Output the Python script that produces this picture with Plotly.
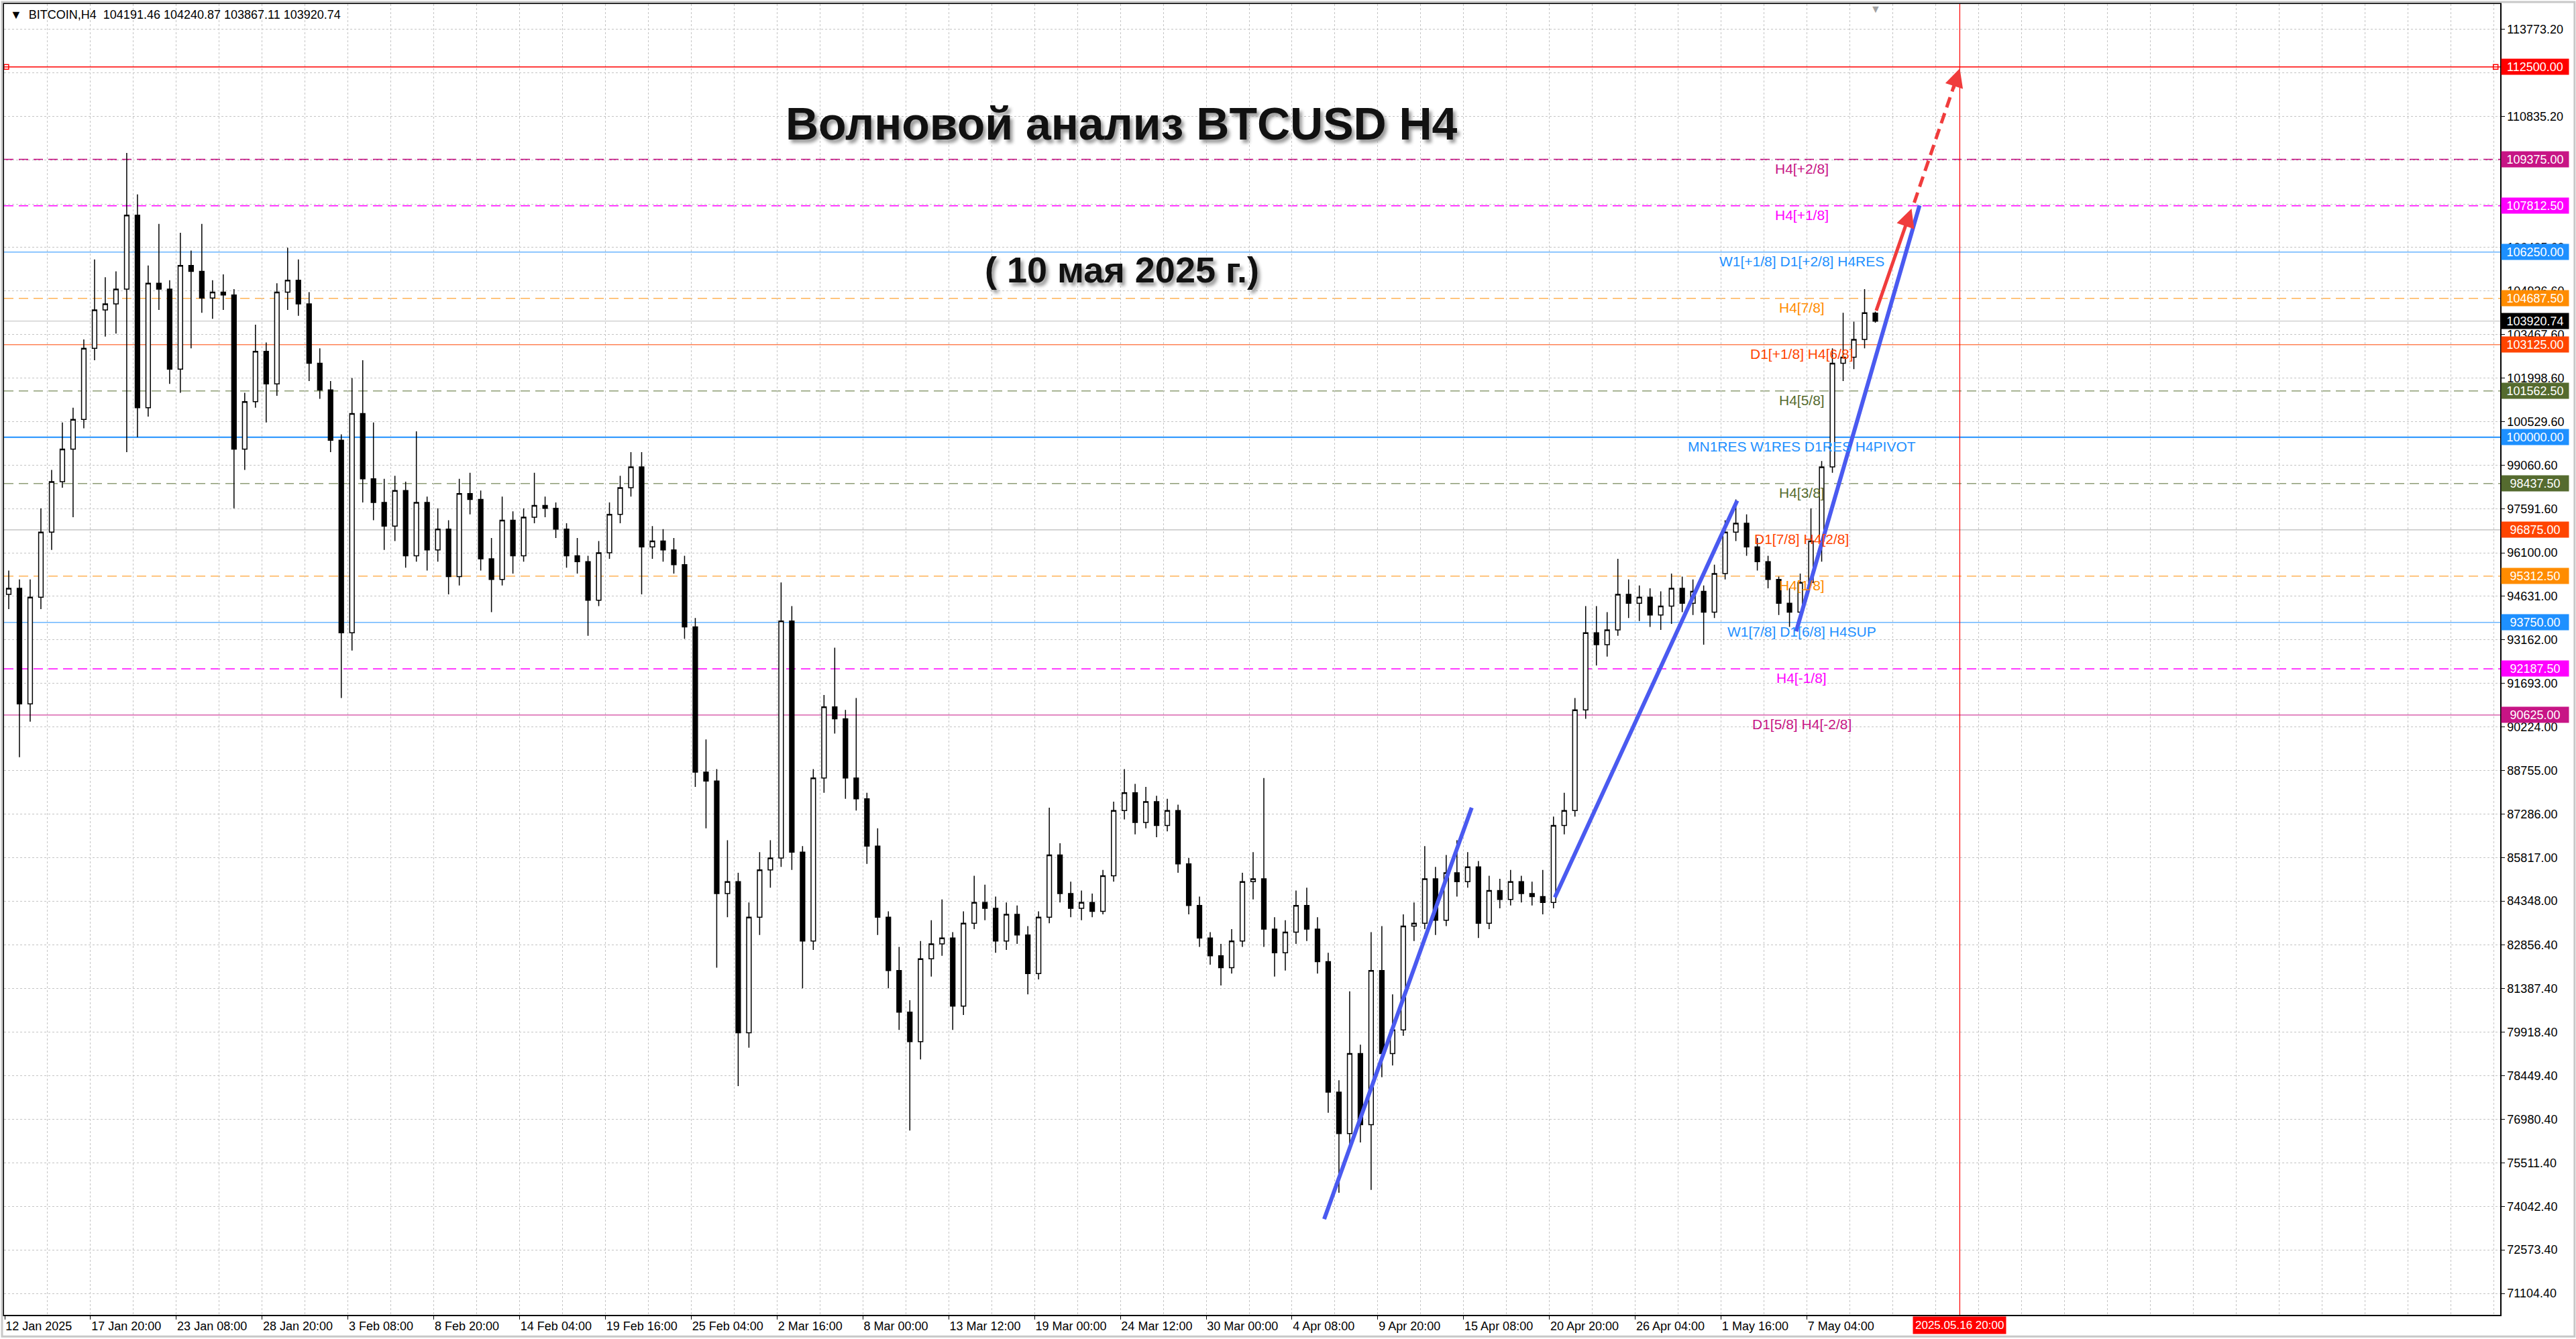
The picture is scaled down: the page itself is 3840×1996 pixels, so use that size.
import plotly.graph_objects as go

# BTCUSD H4, 12 Jan - 10 May 2025; every 4 H4 bars are merged into one candle
bars_per_candle = 4
candle_open = [94700, 94900, 91000, 94600, 96800, 98500, 99600, 100600, 103000, 104300,
               104500, 105000, 107500, 101000, 105200, 105000, 102300, 105800, 105600, 104700,
               104900, 104800, 99600, 101200, 102900, 101800, 104900, 105300, 104500, 102500,
               101600, 99900, 93400, 100800, 98600, 97800, 97000, 98200, 96000, 97800,
               96200, 96900, 95300, 98100, 97900, 95900, 95200, 97200, 96000, 97300,
               97700, 97600, 96900, 96000, 95800, 94500, 96100, 97400, 98300, 99000,
               96300, 96500, 96200, 95700, 93600, 88700, 88400, 84600, 85000, 79900,
               83800, 85400, 85800, 93800, 86000, 83000, 88500, 90900, 90500, 88500,
               87800, 86200, 83800, 82000, 80600, 79600, 82400, 82900, 83100, 80800,
               83600, 84300, 84100, 83000, 83900, 83200, 81900, 83800, 85900, 84600,
               84100, 84300, 84000, 85200, 87400, 88000, 87000, 87700, 86900, 87400,
               85600, 84200, 83100, 82500, 82100, 83000, 85000, 85100, 83400, 82600,
               83300, 84200, 83400, 82300, 77900, 76500, 79200, 76800, 82000, 79200,
               80000, 83500, 83600, 85100, 83700, 85300, 85000, 85500, 83600, 84700,
               84400, 85000, 84600, 84500, 84300, 86900, 87400, 90800, 93400, 93000,
               93500, 94700, 94400, 94600, 94000, 94300, 94900, 94400, 94800, 94100,
               95400, 96800, 97100, 96300, 95800, 95200, 94400, 94100, 95100, 96500,
               99000, 102500, 102700, 103300, 104191.46]
candle_high = [95500, 95200, 95200, 97600, 98900, 100500, 101000, 103300, 106000, 105400,
               105600, 109600, 108200, 105800, 107200, 105300, 106900, 106300, 107200, 105300,
               105500, 105000, 101500, 103800, 103200, 105200, 106400, 106000, 104900, 103000,
               101900, 100100, 102000, 102600, 100500, 98600, 98700, 98500, 100200, 98000,
               97600, 97200, 98600, 98800, 98200, 96600, 98000, 97500, 97600, 98800,
               98000, 97800, 97100, 96600, 96000, 96500, 97800, 98700, 99500, 99500,
               97000, 96900, 96600, 96000, 93900, 89800, 88800, 86400, 85300, 84300,
               86000, 86400, 95100, 94300, 86200, 88800, 91300, 92900, 90800, 91200,
               88000, 86800, 84000, 82800, 81000, 83000, 83700, 84400, 83300, 84000,
               85200, 84900, 84500, 84300, 84200, 83500, 84000, 87500, 86300, 85000,
               84700, 84600, 85400, 87700, 88800, 88300, 88200, 87900, 87800, 87600,
               85800, 84500, 83300, 82900, 83400, 85300, 86000, 88500, 83800, 83700,
               84700, 84800, 83800, 82600, 78300, 81300, 79500, 83300, 83500, 81200,
               83900, 84300, 86200, 85500, 85900, 86400, 86000, 85700, 85200, 85100,
               85400, 85200, 85000, 85400, 87200, 88000, 91200, 94300, 94300, 94100,
               95900, 95200, 95000, 94900, 94800, 95400, 95300, 95200, 95000, 95700,
               97200, 97900, 97400, 96600, 96000, 95300, 94900, 95400, 97600, 99200,
               103000, 104200, 103900, 105000, 104240.87]
candle_low = [94200, 89200, 90400, 94200, 96200, 98300, 97300, 100300, 102600, 103400,
              103500, 99500, 100000, 100700, 104300, 101800, 101500, 103000, 104200, 104000,
              104300, 97600, 98900, 101000, 100500, 101400, 104300, 104100, 101900, 101300,
              99500, 91200, 92800, 97800, 97200, 96200, 96500, 95600, 95800, 95500,
              95800, 94700, 95000, 97400, 95500, 94100, 95000, 95400, 95800, 97100,
              97300, 96600, 95600, 95400, 93300, 94300, 95900, 97100, 98000, 94700,
              95900, 95800, 95400, 93200, 88200, 86800, 82100, 83800, 78100, 79400,
              83200, 84800, 85500, 85400, 81400, 82700, 88000, 90000, 87800, 87400,
              85600, 83200, 81400, 80000, 76600, 79000, 81800, 82500, 80000, 80500,
              83400, 83700, 82600, 82700, 82900, 81200, 81700, 83600, 84300, 83800,
              83700, 83800, 83900, 85000, 87100, 86600, 86800, 86500, 86700, 85300,
              83900, 82800, 82200, 81500, 81900, 82800, 84400, 82800, 81800, 82000,
              82900, 83000, 81900, 77200, 74500, 76000, 76200, 74600, 78400, 78800,
              79800, 83000, 83400, 83200, 83500, 84500, 84800, 83100, 83400, 84100,
              84200, 84300, 84200, 83900, 84100, 86600, 87200, 90500, 92300, 92600,
              93300, 93900, 93800, 93600, 93500, 93700, 94100, 94000, 93000, 93900,
              95200, 96500, 96000, 95500, 94900, 94000, 93600, 93800, 95000, 95800,
              98800, 101900, 102300, 103000, 103867.11]
candle_close = [94900, 91000, 94600, 96800, 98500, 99600, 100600, 103000, 104300, 104500,
                105000, 107500, 101000, 105200, 105000, 102300, 105800, 105600, 104700, 104900,
                104800, 99600, 101200, 102900, 101800, 104900, 105300, 104500, 102500, 101600,
                99900, 93400, 100800, 98600, 97800, 97000, 98200, 96000, 97800, 96200,
                96900, 95300, 98100, 97900, 95900, 95200, 97200, 96000, 97300, 97700,
                97600, 96900, 96000, 95800, 94500, 96100, 97400, 98300, 99000, 96300,
                96500, 96200, 95700, 93600, 88700, 88400, 84600, 85000, 79900, 83800,
                85400, 85800, 93800, 86000, 83000, 88500, 90900, 90500, 88500, 87800,
                86200, 83800, 82000, 80600, 79600, 82400, 82900, 83100, 80800, 83600,
                84300, 84100, 83000, 83900, 83200, 81900, 83800, 85900, 84600, 84100,
                84300, 84000, 85200, 87400, 88000, 87000, 87700, 86900, 87400, 85600,
                84200, 83100, 82500, 82100, 83000, 85000, 85100, 83400, 82600, 83300,
                84200, 83400, 82300, 77900, 76500, 79200, 76800, 82000, 79200, 80000,
                83500, 83600, 85100, 83700, 85300, 85000, 85500, 83600, 84700, 84400,
                85000, 84600, 84500, 84300, 86900, 87400, 90800, 93400, 93000, 93500,
                94700, 94400, 94600, 94000, 94300, 94900, 94400, 94800, 94100, 95400,
                96800, 97100, 96300, 95800, 95200, 94400, 94100, 95100, 96500, 99000,
                102500, 102700, 103300, 104200, 103920.74]

# terminal time scale: one label every 32 bars
time_labels = ["12 Jan 2025", "17 Jan 20:00", "23 Jan 08:00", "28 Jan 20:00", "3 Feb 08:00",
               "8 Feb 20:00", "14 Feb 04:00", "19 Feb 16:00", "25 Feb 04:00", "2 Mar 16:00",
               "8 Mar 00:00", "13 Mar 12:00", "19 Mar 00:00", "24 Mar 12:00", "30 Mar 00:00",
               "4 Apr 08:00", "9 Apr 20:00", "15 Apr 08:00", "20 Apr 20:00", "26 Apr 04:00",
               "1 May 16:00", "7 May 04:00"]
label_step = 32
grid_step = 16
total_bars = 930
future_bar = 729
future_label = "2025.05.16 20:00"

# terminal price scale (two of the values sit under level boxes and are not printed)
price_ticks = [113773.20, 112304.20, 110835.20, 109366.20, 107871.60, 106405.60, 104936.60,
               103467.60, 101998.60, 100529.60, 99060.60, 97591.60, 96100.00, 94631.00,
               93162.00, 91693.00, 90224.00, 88755.00, 87286.00, 85817.00, 84348.00,
               82856.40, 81387.40, 79918.40, 78449.40, 76980.40, 75511.40, 74042.40,
               72573.40, 71104.40]
hidden_ticks = [112304.20, 109366.20]
y_min, y_max = 70380, 114624

# Murrey math levels
mm_levels = [112500, 109375, 107812.5, 106250, 104687.5, 103125, 101562.5, 100000,
             98437.5, 96875, 95312.5, 93750, 92187.5, 90625]
mm_captions = ["", "H4[+2/8]", "H4[+1/8]", "W1[+1/8] D1[+2/8] H4RES", "H4[7/8]",
               "D1[+1/8] H4[6/8]", "H4[5/8]", "MN1RES W1RES D1RES H4PIVOT", "H4[3/8]",
               "D1[7/8] H4[2/8]", "H4[1/8]", "W1[7/8] D1[6/8] H4SUP", "H4[-1/8]",
               "D1[5/8] H4[-2/8]"]
caption_bar = 670
last_price = 103920.74
header = "▼  BITCOIN,H4  104191.46 104240.87 103867.11 103920.74"
title = "Волновой анализ BTCUSD H4"
subtitle = "( 10 мая 2025 г.)"

# hand drawn wave lines (bar, price)
wave1_bar, wave1_price = [492, 547], [73610, 87500]
wave2_bar, wave2_price = [578, 646], [84470, 97860]
wave3_bar, wave3_price = [668, 714], [93450, 107830]
arrow_bar, arrow_price = [697.7, 711], [104240, 107720]
target_bar, target_price = [712, 729], [107920, 112450]

# styles
mm_colors = ["#FF0000", "#C71585", "#FF00FF", "#1E90FF", "#FF8C00", "#FF4500", "#556B2F",
             "#1E90FF", "#556B2F", "#FF4500", "#FF8C00", "#1E90FF", "#FF00FF", "#C71585"]
mm_line_colors = list(mm_colors)
mm_line_colors[9] = "#A8A8A8"
dash = "14px,8px"
mm_dash = ["solid", dash, dash, "solid", dash, "solid", dash, "solid", dash, "solid",
           dash, "solid", dash, "solid"]
mm_width = [1.5, 2, 1.5, 1, 1, 1, 1, 2, 1, 1, 1, 1, 1.5, 1]
wave_blue = "#4A5AF0"
arrow_red = "#F03C3C"
grid_col = "#C4C4C4"
axis_font = dict(family="Liberation Sans, Arial, sans-serif", size=18, color="black")
hand_font = "Liberation Sans, Arial, sans-serif"

candle_x = [bars_per_candle * i + 1.5 for i in range(len(candle_open))]

fig = go.Figure()

fig.add_trace(go.Candlestick(
    x=candle_x, open=candle_open, high=candle_high, low=candle_low, close=candle_close,
    increasing=dict(line=dict(color="black", width=1.5), fillcolor="white"),
    decreasing=dict(line=dict(color="black", width=1.5), fillcolor="black"),
    showlegend=False, hoverinfo="skip"))

for bx, py in [(wave1_bar, wave1_price), (wave2_bar, wave2_price), (wave3_bar, wave3_price)]:
    fig.add_trace(go.Scatter(x=bx, y=py, mode="lines", showlegend=False, hoverinfo="skip",
                             line=dict(color=wave_blue, width=6)))

fig.add_trace(go.Scatter(x=target_bar[:1] + [target_bar[1] - 1.2],
                         y=target_price[:1] + [target_price[1] - 330],
                         mode="lines", showlegend=False, hoverinfo="skip",
                         line=dict(color=arrow_red, width=5, dash="16px,9px")))

# small anchors of the selected 112500 line
fig.add_trace(go.Scatter(x=[0.6, total_bars - 1.2], y=[mm_levels[0]] * 2, mode="markers",
                         showlegend=False, hoverinfo="skip",
                         marker=dict(symbol="square-open", size=7, color="#FF0000",
                                     line=dict(width=1.5))))

shapes = []
annotations = []

for lv, col, dsh, w in zip(mm_levels, mm_line_colors, mm_dash, mm_width):
    shapes.append(dict(type="line", xref="paper", x0=0, x1=1, yref="y", y0=lv, y1=lv,
                       layer="below", line=dict(color=col, width=w, dash=dsh)))

shapes.append(dict(type="line", xref="paper", x0=0, x1=1, yref="y", y0=last_price,
                   y1=last_price, layer="below", line=dict(color="#BDBDBD", width=1)))

shapes.append(dict(type="line", xref="x", x0=future_bar, x1=future_bar, yref="paper",
                   y0=0, y1=1, layer="below", line=dict(color="#FF0000", width=1.2)))

# outer window frame of the terminal
shapes.append(dict(type="rect", xref="paper", yref="paper", x0=-0.0008, x1=1.0298,
                   y0=-0.0165, y1=1.0015, line=dict(color="#C8C8C8", width=3)))

for lv, txt, col in zip(mm_levels, mm_captions, mm_colors):
    if txt:
        annotations.append(dict(x=caption_bar, y=lv, xref="x", yref="y", text=txt,
                                showarrow=False, xanchor="center", yanchor="top",
                                font=dict(family="Liberation Sans, Arial", size=21, color=col)))

# price boxes on the right scale
for lv, col in zip(mm_levels + [last_price], mm_colors + ["#000000"]):
    annotations.append(dict(x=1, y=lv, xref="paper", yref="y", text=f"{lv:.2f}",
                            showarrow=False, xanchor="left", yanchor="middle", xshift=1,
                            width=96, height=19, borderpad=2, align="center", bgcolor=col,
                            font=dict(family="Liberation Sans, Arial", size=18, color="white")))

annotations.append(dict(x=future_bar, y=0, xref="x", yref="paper", text=future_label,
                        showarrow=False, xanchor="center", yanchor="top", yshift=-2,
                        bgcolor="#FF0000", borderpad=3,
                        font=dict(family="Liberation Sans, Arial", size=17, color="white")))

annotations.append(dict(x=0.002, y=0.992, xref="paper", yref="paper", text=header,
                        showarrow=False, xanchor="left", yanchor="middle",
                        font=dict(family="Liberation Sans, Arial", size=18, color="black")))

# chart shift marker
annotations.append(dict(x=candle_x[-1], y=1, xref="x", yref="paper", text="▼",
                        showarrow=False, yanchor="top", yshift=6,
                        font=dict(size=16, color="#A0A0A0")))

annotations.append(dict(x=0.4478, y=0.909, xref="paper", yref="paper", text=title,
                        showarrow=False, xanchor="center", yanchor="middle",
                        font=dict(family=hand_font, size=68, color="#111111", weight=600,
                                  shadow="4px 5px 5px #9A9A9A")))
annotations.append(dict(x=0.4478, y=0.7975, xref="paper", yref="paper", text=subtitle,
                        showarrow=False, xanchor="center", yanchor="middle",
                        font=dict(family=hand_font, size=54, color="#111111", weight=600,
                                  shadow="4px 5px 5px #9A9A9A")))

# arrow heads
annotations.append(dict(x=arrow_bar[1], y=arrow_price[1], ax=arrow_bar[0], ay=arrow_price[0],
                        xref="x", yref="y", axref="x", ayref="y", text="", showarrow=True,
                        arrowhead=2, arrowsize=1.1, arrowwidth=5, arrowcolor=arrow_red))
annotations.append(dict(x=target_bar[1], y=target_price[1], ax=target_bar[1] - 2.5,
                        ay=target_price[1] - 700, xref="x", yref="y", axref="x", ayref="y",
                        text="", showarrow=True, arrowhead=2, arrowsize=1.1, arrowwidth=5,
                        arrowcolor=arrow_red))

label_vals = [label_step * i for i in range(len(time_labels))]
grid_vals = list(range(0, total_bars + 1, grid_step))
price_text = ["" if v in hidden_ticks else f"{v:.2f}" for v in price_ticks]

fig.update_layout(
    width=3840, height=1996,
    margin=dict(l=4, r=113, t=4, b=36),
    paper_bgcolor="white", plot_bgcolor="white",
    boxgap=0.4,
    shapes=shapes, annotations=annotations,
    xaxis=dict(range=[-0.25, total_bars + 0.5], rangeslider=dict(visible=False),
               tickmode="array", tickvals=label_vals, ticktext=time_labels,
               ticklabelposition="outside right", ticks="outside", ticklen=5,
               tickcolor="black", tickfont=axis_font,
               showgrid=True, gridcolor=grid_col, griddash="3px,3px", gridwidth=1,
               minor=dict(tickmode="array", tickvals=grid_vals, showgrid=True,
                          gridcolor=grid_col, griddash="3px,3px", ticks=""),
               showline=True, linecolor="black", linewidth=1.5, mirror=True,
               zeroline=False, fixedrange=True),
    yaxis=dict(range=[y_min, y_max], side="right", tickmode="array", tickvals=price_ticks,
               ticktext=price_text, ticks="outside", ticklen=5,
               tickcolor="black", tickfont=axis_font,
               showgrid=True, gridcolor=grid_col, griddash="3px,3px", gridwidth=1,
               showline=True, linecolor="black", linewidth=1.5, mirror=True,
               zeroline=False, fixedrange=True),
)

fig.write_html("out.html", config={"displayModeBar": False},
               post_script="document.body.style.margin='0';document.body.style.overflow='hidden';")
